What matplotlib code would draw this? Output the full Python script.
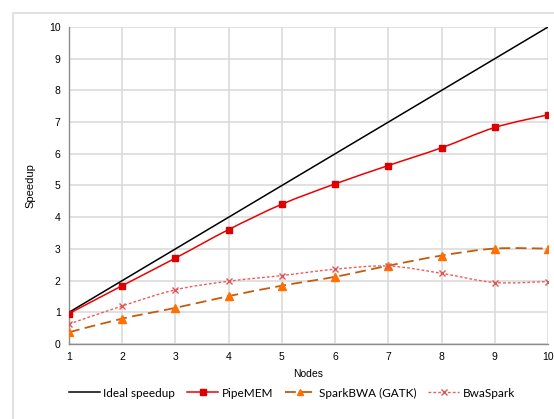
import numpy as np
import matplotlib
matplotlib.use("Agg")
import matplotlib.pyplot as plt
from matplotlib.path import Path
from matplotlib.patches import PathPatch, Rectangle
from matplotlib.lines import Line2D

nodes = [1, 2, 3, 4, 5, 6, 7, 8, 9, 10]
ideal = [1, 2, 3, 4, 5, 6, 7, 8, 9, 10]
pipemem = [0.96, 1.84, 2.71, 3.61, 4.41, 5.05, 5.63, 6.19, 6.83, 7.23]
sparkbwa = [0.37, 0.80, 1.14, 1.51, 1.84, 2.12, 2.47, 2.79, 3.01, 3.01]
bwaspark = [0.63, 1.20, 1.71, 1.98, 2.16, 2.36, 2.46, 2.23, 1.94, 1.97]
yticks = [0, 1, 2, 3, 4, 5, 6, 7, 8, 9, 10]

plt.rcParams['font.family'] = ['Liberation Sans', 'DejaVu Sans']

fig = plt.figure(figsize=(5.54, 4.19), dpi=100)
fig.patches.append(Rectangle((13 / 554, -0.1), 1.2, 1 - 13 / 419 + 0.1,
                             transform=fig.transFigure, fill=False,
                             edgecolor='#dcdcdc', linewidth=1.2))
ax = fig.add_axes([69 / 554, 1 - 344 / 419, (548 - 69) / 554, (344 - 27) / 419])


def smooth_path(xs, ys, t=1 / 6):
    xs = list(xs)
    ys = list(ys)
    n = len(xs)
    verts = [(xs[0], ys[0])]
    codes = [Path.MOVETO]
    for i in range(n - 1):
        x0, y0 = (xs[i - 1], ys[i - 1]) if i > 0 else (xs[i], ys[i])
        x1, y1 = xs[i], ys[i]
        x2, y2 = xs[i + 1], ys[i + 1]
        x3, y3 = (xs[i + 2], ys[i + 2]) if i + 2 < n else (x2, y2)
        c1 = (x1 + (x2 - x0) * t, y1 + (y2 - y0) * t)
        c2 = (x2 - (x3 - x1) * t, y2 - (y3 - y1) * t)
        verts += [c1, c2, (x2, y2)]
        codes += [Path.CURVE4] * 3
    return Path(verts, codes)


ax.plot(nodes, ideal, color='black', lw=1.1, zorder=3)

red = '#ee0000'
ax.add_patch(PathPatch(smooth_path(nodes, pipemem), fill=False, edgecolor=red, lw=1.1, zorder=3))
ax.plot(nodes, pipemem, ls='none', marker='s', ms=4.6, color='#dd0000', zorder=4)

brown = '#c55a11'
orange = '#ff7000'
ax.add_patch(PathPatch(smooth_path(nodes, sparkbwa), fill=False, edgecolor=brown, lw=1.3,
                       ls=(0, (6, 3)), zorder=3))
ax.plot(nodes, sparkbwa, ls='none', marker='^', ms=5.2, color=orange, zorder=4)

pink = '#f05a5a'
ax.add_patch(PathPatch(smooth_path(nodes, bwaspark), fill=False, edgecolor=pink, lw=1.0,
                       ls=(0, (2, 1.5)), zorder=3))
ax.plot(nodes, bwaspark, ls='none', marker='x', ms=4.5, mew=1.0, color='#e05555', zorder=4)

ax.set_xlim(1, 10)
ax.set_ylim(0, 10)
ax.set_xticks(nodes)
ax.set_yticks(yticks)
ax.grid(True, color='#d9d9d9', lw=1.1)
ax.set_axisbelow(True)
for s in ['top', 'right']:
    ax.spines[s].set_visible(False)
for s in ['left', 'bottom']:
    ax.spines[s].set_color('#8c8c8c')
    ax.spines[s].set_linewidth(1.0)
ax.tick_params(length=0, labelsize=7.5, colors='black', pad=6)
ax.set_xlabel('Nodes', fontsize=7.5, labelpad=5)
ax.set_ylabel('Speedup', fontsize=8, labelpad=10)

handles = [
    Line2D([], [], color='black', lw=1.1),
    Line2D([], [], color=red, lw=1.1, marker='s', ms=4.2, mfc='#dd0000', mec='#dd0000'),
    Line2D([], [], color=brown, lw=1.3, ls=(0, (6, 3)), marker='^', ms=4.8, mfc=orange, mec=orange),
    Line2D([], [], color=pink, lw=1.0, ls=(0, (2, 1.5)), marker='x', ms=4.2, mec='#e05555'),
]
labels = ['Ideal speedup', 'PipeMEM', 'SparkBWA (GATK)', 'BwaSpark']
fig.legend(handles, labels, loc='center', bbox_to_anchor=(292 / 554, 1 - 393 / 419),
           ncol=4, frameon=False, handlelength=2.6, handletextpad=0.3,
           columnspacing=1.0, prop={'family': ['Lato', 'DejaVu Sans'], 'size': 8.5})

fig.savefig('out.png', dpi=100)
